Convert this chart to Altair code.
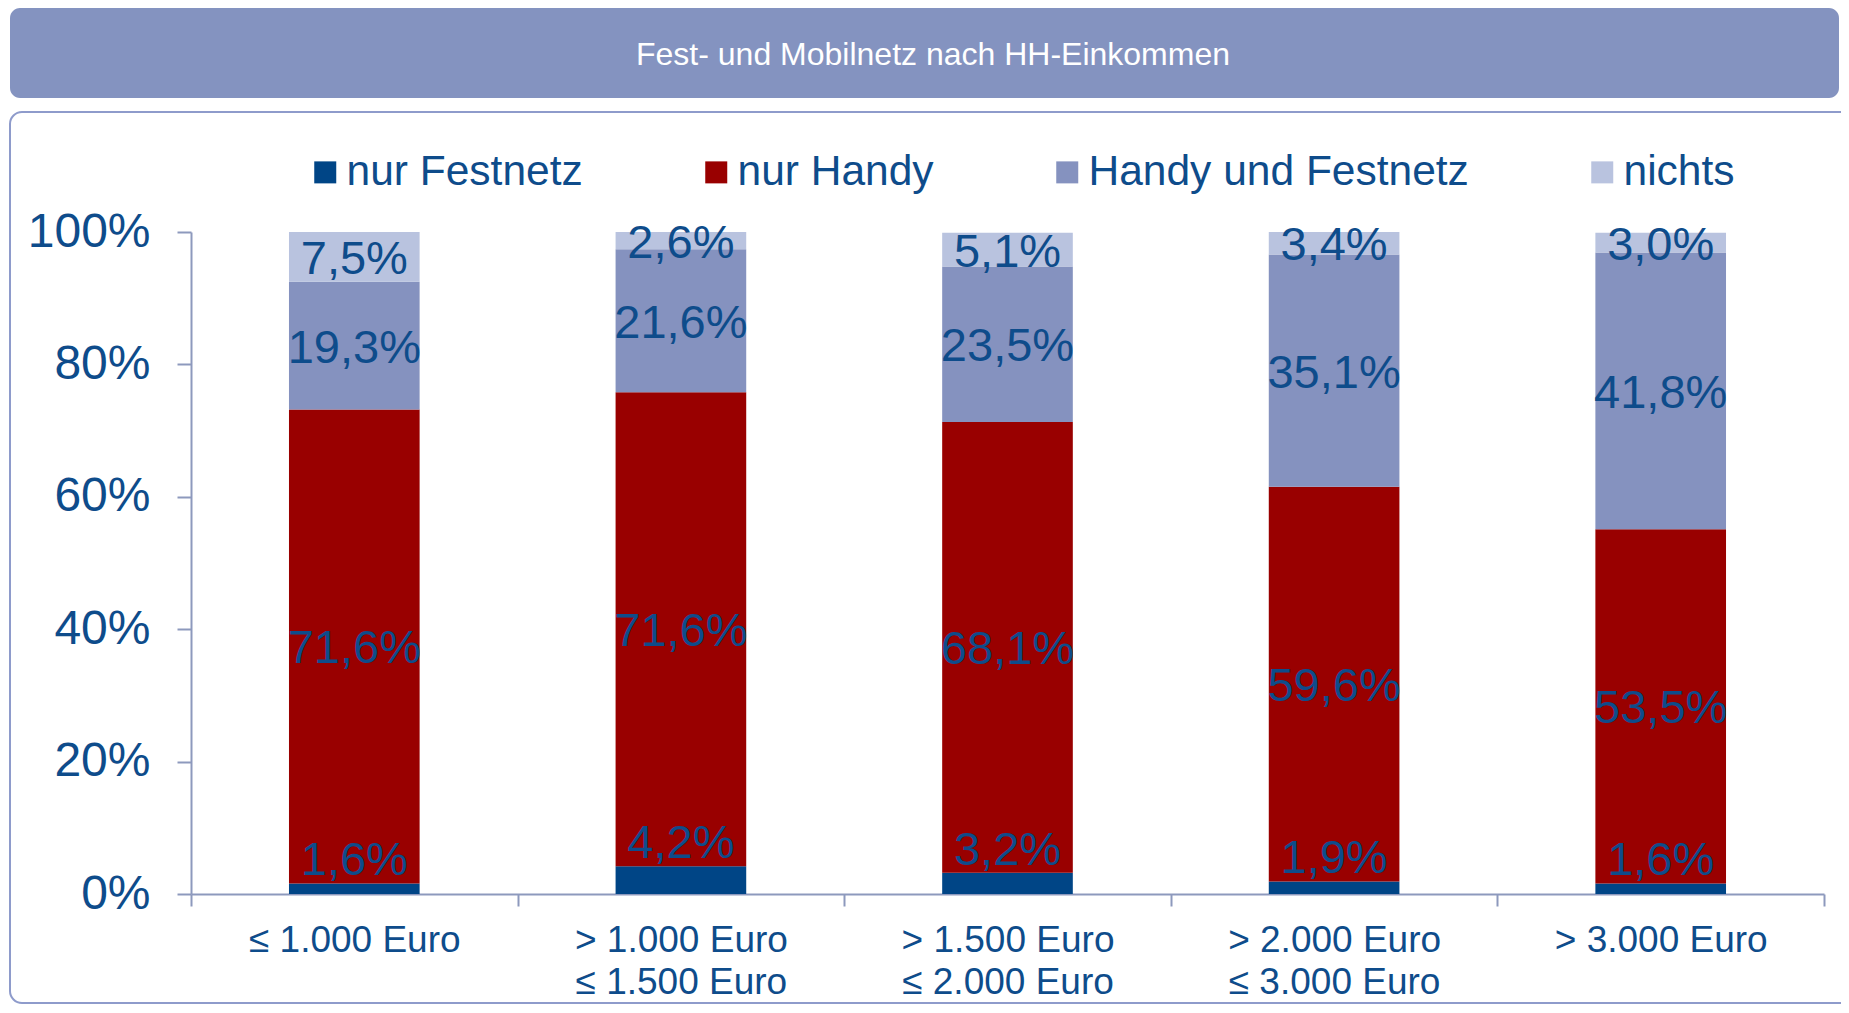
import altair as alt
import pandas as pd

# ---------------- data ----------------
categories = [
    "≤ 1.000 Euro",
    "> 1.000 Euro|≤ 1.500 Euro",
    "> 1.500 Euro|≤ 2.000 Euro",
    "> 2.000 Euro|≤ 3.000 Euro",
    "> 3.000 Euro",
]
series = ["nur Festnetz", "nur Handy", "Handy und Festnetz", "nichts"]
nur_festnetz = [1.6, 4.2, 3.2, 1.9, 1.6]
nur_handy = [71.6, 71.6, 68.1, 59.6, 53.5]
handy_und_festnetz = [19.3, 21.6, 23.5, 35.1, 41.8]
nichts = [7.5, 2.6, 5.1, 3.4, 3.0]
y_ticks = [0, 20, 40, 60, 80, 100]
chart_title = "Fest- und Mobilnetz nach HH-Einkommen"

colors = ["#004586", "#990000", "#8592BF", "#B9C3DF"]
text_blue = "#0E4C8B"
axis_gray = "#8D99BD"
FONT = "Liberation Sans"

rows = []
for s_idx, (s, vals) in enumerate(zip(series, [nur_festnetz, nur_handy, handy_und_festnetz, nichts])):
    for c, v in zip(categories, vals):
        rows.append({
            "cat": c,
            "series": s,
            "ord": s_idx,
            "value": v,
            "label": f"{v:.1f}".replace(".", ",") + "%",
        })
df = pd.DataFrame(rows)

W, H = 1633, 662

x_enc = alt.X(
    "cat:N",
    sort=categories,
    scale=alt.Scale(paddingInner=0, paddingOuter=0),
    axis=alt.Axis(
        title=None,
        labelAngle=0,
        labelExpr="isValid(datum.value) ? split(datum.value, '|') : ''",
        labelFontSize=37,
        labelLineHeight=42.5,
        labelColor=text_blue,
        labelFont=FONT,
        labelPadding=16,
        labelLimit=1000,
        tickBand="extent",
        tickSize=12,
        tickWidth=2,
        tickColor=axis_gray,
        domainColor=axis_gray,
        domainWidth=2,
    ),
)

bars = alt.Chart(df).mark_bar(width=alt.RelativeBandSize(0.4)).encode(
    x=x_enc,
    y=alt.Y(
        "value:Q",
        stack="zero",
        scale=alt.Scale(domain=[0, 100], nice=False),
        axis=alt.Axis(
            title=None,
            values=y_ticks,
            labelExpr="datum.value + '%'",
            labelFontSize=48,
            labelColor=text_blue,
            labelFont=FONT,
            labelPadding=27,
            tickSize=14,
            tickWidth=2,
            tickColor=axis_gray,
            domainColor=axis_gray,
            domainWidth=2,
            grid=False,
        ),
    ),
    color=alt.Color(
        "series:N",
        sort=series,
        scale=alt.Scale(domain=series, range=colors),
        legend=alt.Legend(
            title=None,
            orient="none",
            direction="horizontal",
            legendX=113,
            legendY=-81,
            symbolType="square",
            symbolSize=484,
            symbolStrokeWidth=0,
            symbolOpacity=1,
            labelFontSize=42.5,
            labelFont=FONT,
            labelColor=text_blue,
            labelOffset=0,
            labelLimit=1000,
            columnPadding=112,
            padding=0,
        ),
    ),
    order=alt.Order("ord:Q", sort="ascending"),
)

stacked = alt.Chart(df).transform_stack(
    stack="value",
    groupby=["cat"],
    sort=[alt.SortField("ord", order="ascending")],
    as_=["y0", "y1"],
).transform_calculate(mid="(datum.y0 + datum.y1) / 2")

labels_mid = stacked.transform_filter("datum.ord > 0").mark_text(
    fontSize=47, font=FONT, color=text_blue, baseline="middle", align="center", dy=3
).encode(
    x=alt.X("cat:N", sort=categories),
    y=alt.Y("mid:Q"),
    text="label:N",
)

labels_low = stacked.transform_filter("datum.ord == 0").mark_text(
    fontSize=47, font=FONT, color=text_blue, baseline="alphabetic", align="center", dy=-8
).encode(
    x=alt.X("cat:N", sort=categories),
    y=alt.Y("y1:Q"),
    text="label:N",
)

deco_df = pd.DataFrame({"t": [chart_title]})
banner = alt.Chart(deco_df).mark_rect(color="#8493C0", cornerRadius=10).encode(
    x=alt.value(-181), x2=alt.value(1648), y=alt.value(-224), y2=alt.value(-134)
)
panel = alt.Chart(deco_df).mark_rect(
    fillOpacity=0, stroke="#8E9BCB", strokeWidth=2, cornerRadius=12
).encode(
    x=alt.value(-181), x2=alt.value(1665), y=alt.value(-120), y2=alt.value(771)
)
title_text = alt.Chart(deco_df).mark_text(
    fontSize=32, font=FONT, color="white", align="center", baseline="middle"
).encode(x=alt.value(742), y=alt.value(-177), text="t:N")

chart = (
    alt.layer(banner, panel, title_text, bars, labels_mid, labels_low)
    .properties(
        width=W,
        height=H,
        autosize=alt.AutoSizeParams(type="none"),
        padding={"left": 183, "top": 224, "right": 17, "bottom": 111},
    )
    .configure(font=FONT)
    .configure_view(stroke="transparent", strokeWidth=0)
)

chart.save("out.html", embed_options={"renderer": "svg", "actions": False})
